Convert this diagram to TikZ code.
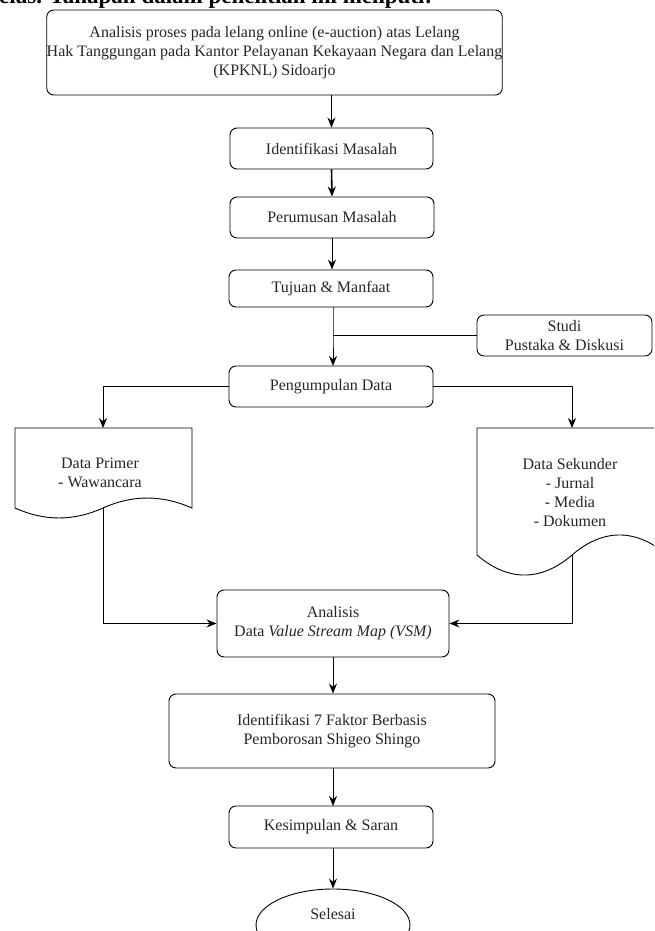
\documentclass[tikz,border=0pt]{standalone}
\usepackage{fontspec}
\setmainfont{Liberation Serif}
\usetikzlibrary{arrows.meta,shapes.geometric}
\begin{document}
\begin{tikzpicture}[x=1pt,y=-1pt,
  every node/.style={font=\fontsize{16}{19}\selectfont, text=black!85},
  box/.style={draw, rounded corners=7pt, line width=0.9pt, align=center, inner sep=0pt},
  conn/.style={line width=1pt},
  arr/.style={conn, -{Stealth[length=10pt,width=8pt]}},
  docshape/.style={draw, line width=0.9pt, fill=white}]
\useasboundingbox (0,0) rectangle (654,931);
\clip (0,0) rectangle (654,931);
% cut-off line of the surrounding text
\node[anchor=base west, inner sep=0pt, font=\bfseries\fontsize{23}{26}\selectfont, text=black] (cut) at (-1,3.5) {elas. Tahapan dalam penelitian ini meliputi:};
% boxes
\node[box, minimum width=385pt, minimum height=85pt] (top) at (274.5,52.5)
  {Analisis proses pada lelang online (e-auction) atas Lelang\\Hak Tanggungan pada Kantor Pelayanan Kekayaan Negara dan Lelang\\(KPKNL) Sidoarjo};
\node[box, minimum width=203pt, minimum height=41pt] (idm) at (331.5,148.5) {Identifikasi Masalah};
\node[box, minimum width=204pt, minimum height=41pt] (per) at (332,217.5) {Perumusan Masalah};
\node[box, minimum width=204pt, minimum height=37pt] (tuj) at (331,288.5) {Tujuan \& Manfaat};
\node[box, minimum width=175pt, minimum height=41pt] (stu) at (564.5,335.5) {Studi\\Pustaka \& Diskusi};
\node[box, minimum width=204pt, minimum height=41pt] (peng) at (331,386.5) {Pengumpulan Data};
\node[box, minimum width=232pt, minimum height=67pt] (ana) at (333,623.5) {Analisis\\Data \textit{Value Stream Map (VSM)}};
\node[box, minimum width=326pt, minimum height=74pt] (ide) at (332,731) {Identifikasi 7 Faktor Berbasis\\Pemborosan Shigeo Shingo};
\node[box, minimum width=204pt, minimum height=42pt] (kes) at (331,827) {Kesimpulan \& Saran};
\node[draw, ellipse, line width=0.9pt, minimum width=154pt, minimum height=72pt, inner sep=0pt] (sel) at (333,925) {};
\node (selt) at (333,914) {Selesai};
% document shapes
\coordinate (ptop) at (103,428);
\coordinate (pbot) at (103,508);
\draw[docshape] (15,428) -- (192,428) -- (192,508)
  .. controls (162,494.7) and (132.3,494.7) .. (pbot)
  .. controls (73.7,521.3) and (44.3,521.3) .. (15,508) -- cycle;
\node[align=center] (prim) at (100,473) {Data Primer\\- Wawancara};
\coordinate (stop) at (572,428);
\coordinate (sbot) at (572,554);
\draw[docshape] (477,428) -- (667,428) -- (667,555)
  .. controls (636,528.3) and (603,528.3) .. (572,555)
  .. controls (541,581.7) and (508,581.7) .. (477,555) -- cycle;
\node[align=center] (sek) at (570,493) {Data Sekunder\\- Jurnal\\- Media\\- Dokumen};
% connectors
\draw[arr] (idm.north |- top.south) -- (idm.north);
\draw[arr, line width=1.6pt] (idm.south) -- (per.north);
\draw[arr] (per.south) -- (per.south |- tuj.north);
\coordinate (join) at (333,335.5);
\draw[arr] (333,307) -- (join) -- (333,366);
\draw[conn] (stu.west) -- (join);
\draw[arr] (peng.west) -| (ptop);
\draw[arr] (peng.east) -| (stop);
\draw[arr] (pbot) |- (ana.west);
\draw[arr] (sbot) |- (ana.east);
\draw[arr] (ana.south) -- (ide.north -| ana.south);
\draw[arr] (ide.south -| ana.south) -- (333,806);
\draw[arr] (333,848) -- (sel.north);
\end{tikzpicture}
\end{document}
